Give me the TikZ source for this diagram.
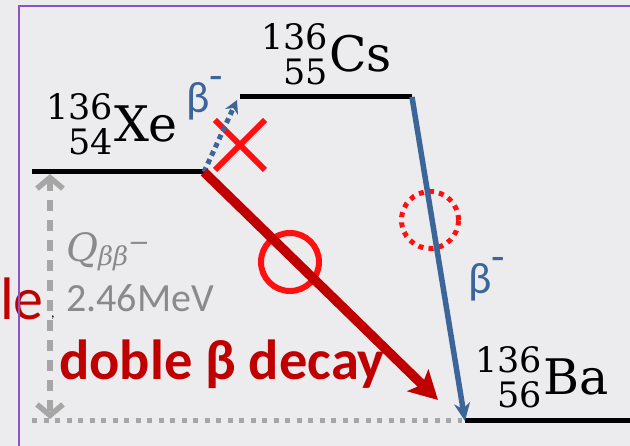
\documentclass[tikz,border=0pt]{standalone}
\usepackage{fontspec}
\setsansfont{Carlito}
\newfontfamily\nucfont{DejaVu Serif}
\usetikzlibrary{arrows.meta,shapes.misc}
\definecolor{bg}{HTML}{ECECEE}
\definecolor{framepurple}{HTML}{8E52C8}
\definecolor{dred}{HTML}{C00000}
\definecolor{bred}{HTML}{FF1010}
\definecolor{bblue}{HTML}{3C6699}
\definecolor{qgray}{HTML}{8A8A8A}
\definecolor{lgray}{HTML}{A6A6A6}
\newlength\nuclw
\newcommand{\nucl}[3]{{\nucfont{\fontsize{35}{35}\selectfont\settowidth{\nuclw}{#1}\rlap{\raisebox{22pt}{#1}}\makebox[\nuclw][r]{\raisebox{-13pt}{#2}}}\kern1pt\fontsize{49}{49}\selectfont #3}}
\begin{document}
\begin{tikzpicture}[x=1pt,y=-1pt,
  level/.style={line width=5pt, black},
  nuc/.style={anchor=base west, inner sep=0pt},
  betalbl/.style={anchor=base west, inner sep=0pt, text=bblue, font=\sffamily\fontsize{44}{44}\selectfont},
  redring/.style={circle, draw=bred, line width=6pt, inner sep=0pt, minimum size=58pt},
  dotring/.style={circle, draw=bred, line width=5pt, inner sep=0pt, minimum size=57pt, dash pattern=on 5pt off 5.2pt},
]
\useasboundingbox (0,0) rectangle (630,446);
\fill[bg] (0,0) rectangle (630,446);

% level end points
\coordinate (xeL) at (32,172);
\coordinate (xeR) at (204,172);
\coordinate (csL) at (240,97);
\coordinate (csR) at (412,97);
\coordinate (baL) at (465,421);
\coordinate (baR) at (630,421);
\coordinate (qtop) at (50,174);
\coordinate (qbot) at (50,419);
\coordinate (gL) at (32,421);
\coordinate (gR) at (462,421);
\coordinate (redtip) at (438,400);
\coordinate (bluetip) at (237,100);

% red "le" fragment
\node[anchor=base east, inner sep=0pt, text=dred, font=\sffamily\fontsize{60}{60}\selectfont] (frag) at (44,320) {le};
\node[anchor=base west, inner sep=0pt, font=\sffamily\fontsize{14}{14}\selectfont] (comma) at (51,318) {,};

% levels
\draw[level] (xeL) -- (xeR);
\draw[level] (csL) -- (csR);
\draw[level] (baL) -- (baR);

% Q value
\draw[lgray, line width=5pt, dash pattern=on 5pt off 6.5pt] (gL) -- (gR);
\draw[lgray, line width=5.5pt, dash pattern=on 11pt off 9pt, {Straight Barb[length=11pt,width=26pt]}-{Straight Barb[length=11pt,width=26pt]}] (qtop) -- (qbot);

% labels
\node[nuc] (xe) at (46,142) {\nucl{136}{54}{Xe}};
\node[nuc] (cs) at (261,72) {\nucl{136}{55}{Cs}};
\node[nuc] (ba) at (475,395) {\nucl{136}{56}{Ba}};

\node[anchor=base west, inner sep=0pt, text=qgray] (q) at (66,262) {\nucfont\itshape\fontsize{39}{39}\selectfont Q\fontsize{26}{26}\selectfont\raisebox{-4pt}{ββ}\raisebox{10pt}{\upshape −}};
\node[anchor=base west, inner sep=0pt, text=qgray, font=\sffamily\fontsize{40}{40}\selectfont] (qv) at (66,312) {2.46MeV};

\node[anchor=base west, inner sep=0pt, text=dred, font=\sffamily\bfseries\fontsize{56.5}{56.5}\selectfont] (dbd) at (59,380) {doble β decay};

\node[betalbl] (b1) at (186,113) {β\raisebox{22pt}{-}};
\node[betalbl] (b2) at (468,294) {β\raisebox{22pt}{-}};

% circles and cross
\node[redring] (yes) at (290,262) {};
\node[dotring] (maybe) at (430,220) {};
\node[cross out, draw=bred, line width=6pt, inner sep=0pt, minimum size=44pt] (no) at (240,145) {};

% transitions
\draw[bblue, line width=5pt, dash pattern=on 5pt off 4pt, -{Stealth[length=13pt,width=14pt]}] (xeR) -- (bluetip);
\draw[dred, line width=9.5pt, -{Stealth[length=28pt,width=30pt,inset=6pt]}] (xeR) -- (redtip);
\draw[bblue, line width=5.5pt, -{Stealth[length=18pt,width=16pt]}] (csR) -- (baL);

% frame
\draw[framepurple, line width=1.5pt] (19,446) -- (19,6) -- (630,6);
\end{tikzpicture}
\end{document}
